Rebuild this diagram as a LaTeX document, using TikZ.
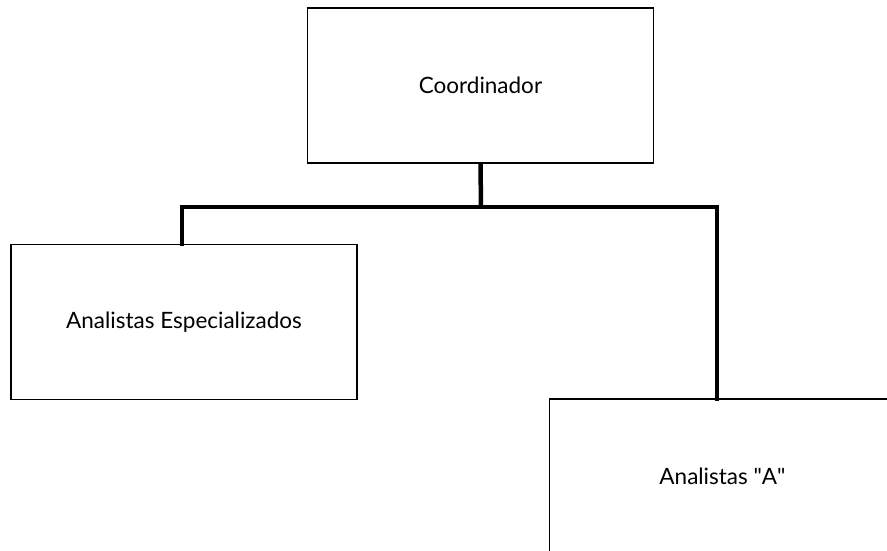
\documentclass[tikz,border=0pt]{standalone}
\usepackage{fontspec}
\setmainfont{Lato}
\usetikzlibrary{positioning}

\tikzset{
  orgbox/.style={rectangle, draw=black, line width=1.4pt, minimum width=346pt, minimum height=155pt, text centered, font=\fontsize{22.5}{26}\selectfont},
  orgline/.style={line width=4.5pt}
}

\begin{document}
\begin{tikzpicture}[x=1pt, y=-1pt]
\useasboundingbox (0,0) rectangle (887,550);
\clip (0,0) rectangle (887,550);

% Верхний уровень - Coordinador
\node (coord) [orgbox] at (480.5,85.5) {Coordinador};

% Нижний уровень - аналитики
\node (espec) [orgbox] at (184,322) {Analistas Especializados};
\node (anaA) [orgbox] at (722.5,476.5) {Analistas \textquotedbl A\textquotedbl};

% Связи
\coordinate (bus) at (481,207);
\draw[orgline] (coord.south) -- (bus);
\draw[orgline, line cap=rect] (bus) -| ([xshift=-2pt]espec.north);
\draw[orgline, line cap=rect] (bus) -| ([xshift=-5.5pt]anaA.north);

\end{tikzpicture}
\end{document}
